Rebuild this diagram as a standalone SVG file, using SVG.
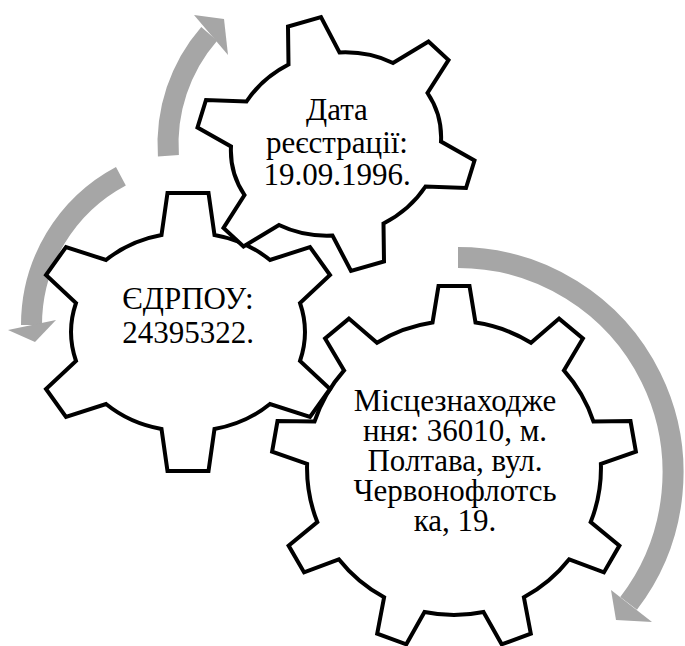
<svg xmlns="http://www.w3.org/2000/svg" width="685" height="646" viewBox="0 0 685 646">
<style>
.arrow{fill:none;stroke:#A6A6A6;stroke-width:21}
.head{fill:#A6A6A6;stroke:none}
.gear{fill:#FFFFFF;stroke:#000000;stroke-width:4;stroke-linejoin:miter}
text{font-family:'Liberation Serif','Times New Roman',serif;font-size:31px;fill:#000000;text-anchor:middle}
</style>
<rect width="685" height="646" fill="#FFFFFF"/>
<g id="connectors">
<path class="arrow" d="M 168.4 155.7 A 168 168 0 0 1 209.2 33.8"/>
<polygon class="head" points="194,15 224,19 228,55"/>
<path class="arrow" d="M 120.9 176.2 A 168.5 168.5 0 0 0 31.5 325"/>
<polygon class="head" points="56,320 35,342 8,330"/>
<path class="arrow" d="M 458 257.5 A 215 215 0 0 1 628.6 603.4"/>
<polygon class="head" points="652,622 616,620 611,590"/>
</g>
<g id="gear-location">
<path class="gear" transform="translate(454,468)" d="M -21.5 -145.4 L -15.5 -182 L 15.5 -182 L 21.5 -145.4 A 147 147 0 0 1 77 -125.2 L 105.1 -149.4 L 128.9 -129.5 L 109.9 -97.6 A 147 147 0 0 1 139.5 -46.4 L 176.5 -46.9 L 181.9 -16.3 L 146.9 -4.1 A 147 147 0 0 1 136.7 54.1 L 165.4 77.6 L 149.9 104.4 L 115.2 91.3 A 147 147 0 0 1 69.9 129.3 L 76.8 165.7 L 47.7 176.3 L 29.5 144 A 147 147 0 0 1 -29.5 144 L -47.7 176.3 L -76.8 165.7 L -69.9 129.3 A 147 147 0 0 1 -115.2 91.3 L -149.9 104.4 L -165.4 77.6 L -136.7 54.1 A 147 147 0 0 1 -146.9 -4.1 L -181.9 -16.3 L -176.5 -46.9 L -139.5 -46.4 A 147 147 0 0 1 -109.9 -97.6 L -128.9 -129.5 L -105.1 -149.4 L -77 -125.2 A 147 147 0 0 1 -21.5 -145.4 Z"/>
<text x="455" y="411">Місцезнаходже</text>
<text x="455" y="441">ння: 36010, м.</text>
<text x="455" y="471">Полтава, вул.</text>
<text x="455" y="501">Червонофлотсь</text>
<text x="455" y="531">ка, 19.</text>
</g>
<g id="gear-edrpou">
<path class="gear" d="M 161.5 235 L 167.5 193 L 208.5 193 L 214.5 235 A 116 101 0 0 1 270 260 L 310 247 L 330 275 L 300 303 A 116 101 0 0 1 300 361 L 330 389 L 310 417 L 270 404 A 116 101 0 0 1 214.5 429 L 208.5 471 L 167.5 471 L 161.5 429 A 116 101 0 0 1 106 404 L 66 417 L 46 389 L 76 361 A 116 101 0 0 1 76 303 L 46 275 L 66 247 L 106 260 A 116 101 0 0 1 161.5 235 Z"/>
<text x="188" y="309">ЄДРПОУ:</text>
<text x="188" y="343">24395322.</text>
</g>
<g id="gear-date">
<path class="gear" d="M 288.5 64.5 L 288 26.5 L 321 17 L 339.5 52.5 A 106 91 -15 0 1 393 63 L 428.5 41.5 L 448.5 60 L 427.5 93 A 106 91 -15 0 1 441 141.5 L 474.5 160.5 L 466 188 L 425.5 186.5 A 106 91 -15 0 1 383.5 223.5 L 384 261.5 L 351 271 L 332.5 235.5 A 106 91 -15 0 1 279 225 L 243.5 246.5 L 223.5 228 L 244.5 195 A 106 91 -15 0 1 231 146.5 L 197.5 127.5 L 206 100 L 246.5 101.5 A 106 91 -15 0 1 288.5 64.5 Z"/>
<text x="337" y="120">Дата</text>
<text x="337" y="153">реєстрації:</text>
<text x="337" y="185">19.09.1996.</text>
</g>
</svg>
